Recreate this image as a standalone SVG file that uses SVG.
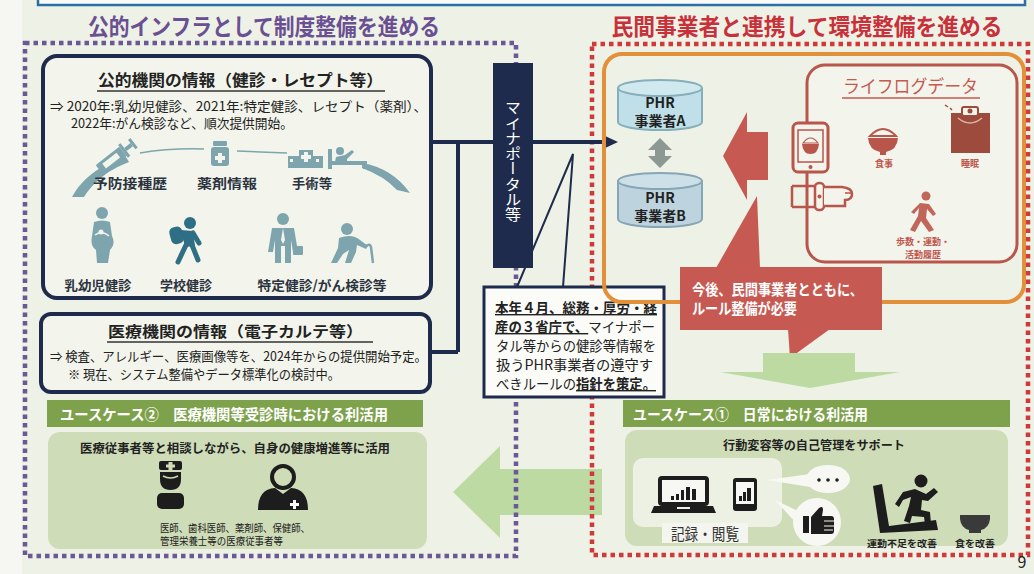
<svg xmlns="http://www.w3.org/2000/svg" width="1034" height="574" viewBox="0 0 1034 574">
  <defs>
    <style>
      text { font-family: "Noto Sans CJK JP", "Noto Sans", sans-serif; }
      .b { font-weight: 700; }
      .dk { fill: #222; }
      .navy { fill: none; stroke: #1f2b4c; }
      .teal { fill: #7ea4ae; }
      .ul { text-decoration: underline; }
      .lbl { font-size: 13px; font-weight: 700; fill: #2b3340; }
      .ll { font-size: 9px; font-weight: 700; fill: #c0564c; }
      .blk { fill: #1d1d1d; }
      .ghead { fill: #7ea24c; }
      .gbox { fill: #cfdcb8; }
    </style>
  </defs>

  <!-- page background -->
  <rect x="0" y="0" width="1034" height="574" fill="#f6f7f2"/>
  <rect x="22" y="0" width="1012" height="574" fill="#eef1e5"/>

  <!-- banner box at the top edge -->
  <rect x="38" y="-20" width="987" height="25" fill="#fafbf7" stroke="#2a70a6" stroke-width="2.5"/>

  <!-- section titles -->
  <text x="264" y="35" text-anchor="middle" font-size="23" class="b" fill="#6a4f93" textLength="352" lengthAdjust="spacingAndGlyphs">公的インフラとして制度整備を進める</text>
  <text x="807" y="35" text-anchor="middle" font-size="23" class="b" fill="#c8303a" textLength="391" lengthAdjust="spacingAndGlyphs">民間事業者と連携して環境整備を進める</text>

  <!-- green arrow from daily use to clinical use -->
  <g id="green-left-arrow">
    <polygon points="453,492 500,446 500,469 602,469 602,515 500,515 500,538" fill="#bedaa3"/>
  </g>

  <!-- dotted section frames -->
  <g id="frames" fill="none" stroke-width="4.5" stroke-dasharray="4.5 4">
    <rect x="25" y="43" width="491" height="513" stroke="#6b5896"/>
    <rect x="592" y="44" width="436" height="511" stroke="#d0393a"/>
  </g>

  <!-- public institution info -->
  <g id="public-info">
    <rect x="43" y="56" width="388" height="242" rx="14" fill="#f3f5ec" stroke="#1f2b4c" stroke-width="4"/>
    <text x="98" y="86" font-size="16" class="b dk" textLength="285" lengthAdjust="spacingAndGlyphs">公的機関の情報（健診・レセプト等）</text>
    <line x1="97" y1="91" x2="385" y2="91" stroke="#333" stroke-width="1.5"/>
    <text x="50" y="111" font-size="13" class="dk" textLength="377" lengthAdjust="spacingAndGlyphs">⇒ 2020年:乳幼児健診、2021年:特定健診、レセプト（薬剤）、</text>
    <text x="71" y="128" font-size="13" class="dk" textLength="222" lengthAdjust="spacingAndGlyphs">2022年:がん検診など、順次提供開始。</text>

    <!-- timeline arc -->
    <path d="M72,197 C84,176 100,166 126,157 L129,162 C106,171 94,182 84,197 Z" class="teal"/>
    <path d="M140,153 Q170,148 204,149" fill="none" stroke="#7ea4ae" stroke-width="1.5"/>
    <path d="M237,151 L287,153" fill="none" stroke="#7ea4ae" stroke-width="1.5"/>
    <path d="M362,163 Q392,168 410,193 L397,190 Q384,176 362,168 Z" class="teal"/>

    <!-- syringe -->
    <g transform="translate(112,160) rotate(-38)" fill="#7ea4ae">
      <rect x="-16" y="-6" width="30" height="12" rx="1"/>
      <rect x="-10" y="-3" width="18" height="6" fill="#f3f5ec"/>
      <rect x="14" y="-8" width="3" height="16"/>
      <rect x="17" y="-2" width="8" height="4"/>
      <rect x="25" y="-6" width="3" height="12"/>
      <rect x="-24" y="-1" width="8" height="2"/>
    </g>

    <!-- medicine bottle -->
    <g class="teal">
      <rect x="213" y="141" width="14" height="5" rx="1"/>
      <rect x="211" y="147" width="18" height="19" rx="3"/>
      <path d="M218,153 h4 v3 h3 v4 h-3 v3 h-4 v-3 h-3 v-4 h3 Z" fill="#f3f5ec"/>
    </g>

    <!-- hospital and bed -->
    <g class="teal">
      <rect x="288" y="156" width="12" height="12"/>
      <rect x="299" y="150" width="14" height="18"/>
      <rect x="312" y="156" width="11" height="12"/>
      <path d="M304,152 h4 v3 h3 v4 h-3 v3 h-4 v-3 h-3 v-4 h3 Z" fill="#f3f5ec"/>
      <rect x="290" y="159" width="3" height="3" fill="#f3f5ec"/>
      <rect x="316" y="159" width="3" height="3" fill="#f3f5ec"/>
      <rect x="328" y="149" width="4" height="20"/>
      <circle cx="340" cy="151" r="4"/>
      <path d="M336,157 L345,155 L352,150 L354,152 L347,159 L347,162 H335 Z"/>
      <rect x="332" y="161" width="35" height="4"/>
      <rect x="363" y="165" width="4" height="4"/>
    </g>
    <text x="130" y="188" text-anchor="middle" class="lbl" textLength="74" lengthAdjust="spacingAndGlyphs">予防接種歴</text>
    <text x="227" y="188" text-anchor="middle" class="lbl" textLength="60" lengthAdjust="spacingAndGlyphs">薬剤情報</text>
    <text x="312" y="188" text-anchor="middle" class="lbl" textLength="40" lengthAdjust="spacingAndGlyphs">手術等</text>

    <!-- mother with infant -->
    <g class="teal">
      <circle cx="102" cy="213" r="6"/>
      <path d="M94,222 Q102,219 110,222 L112,236 Q116,244 110,250 L108,263 H97 L96,250 Q90,246 92,236 Z"/>
      <path d="M95,235 Q102,230 109,236" fill="none" stroke="#f3f5ec" stroke-width="1.5"/>
      <circle cx="101" cy="232" r="2.5" fill="#f3f5ec"/>
    </g>
    <!-- schoolchild -->
    <g fill="#2f6f86">
      <circle cx="190" cy="223" r="6"/>
      <rect x="170" y="227" width="13" height="17" rx="5" transform="rotate(-15 176 235)"/>
      <path d="M181,230 L193,231 L195,246 L185,247 Z"/>
      <path d="M186,245 L178,262 M192,245 L198,260 M193,233 L199,243" stroke="#2f6f86" stroke-width="5" stroke-linecap="round" fill="none"/>
    </g>
    <!-- office worker -->
    <g class="teal">
      <circle cx="283" cy="219" r="6"/>
      <path d="M272,228 H294 L298,252 H293 L291,240 V263 H285 V246 H281 V263 H275 V240 L273,252 H268 Z"/>
      <polygon points="283,228 285,240 283,244 281,240" fill="#f3f5ec"/>
      <rect x="293" y="246" width="10" height="9" rx="1"/>
    </g>
    <!-- elderly person with cane -->
    <g class="teal">
      <circle cx="347" cy="229" r="6"/>
      <path d="M339,238 Q352,233 360,240 L368,246 L366,249 L357,245 L356,252 L351,263 H345 L349,250 L343,254 L337,263 H331 L338,248 Z"/>
      <path d="M366,246 Q370,243 371,247 L373,263" fill="none" stroke="#7ea4ae" stroke-width="2.5"/>
    </g>
    <text x="98" y="290" text-anchor="middle" class="lbl" textLength="67" lengthAdjust="spacingAndGlyphs">乳幼児健診</text>
    <text x="186" y="290" text-anchor="middle" class="lbl" textLength="52" lengthAdjust="spacingAndGlyphs">学校健診</text>
    <text x="322" y="290" text-anchor="middle" class="lbl" textLength="129" lengthAdjust="spacingAndGlyphs">特定健診/がん検診等</text>
  </g>

  <!-- medical institution info -->
  <g id="medical-info">
    <rect x="41" y="314" width="389" height="78" rx="10" fill="#f3f5ec" stroke="#1f2b4c" stroke-width="4"/>
    <text x="108" y="337" font-size="15" class="b dk" textLength="255" lengthAdjust="spacingAndGlyphs">医療機関の情報（電子カルテ等）</text>
    <line x1="107" y1="342" x2="373" y2="342" stroke="#333" stroke-width="1.5"/>
    <text x="50" y="361" font-size="13" class="dk" textLength="377" lengthAdjust="spacingAndGlyphs">⇒ 検査、アレルギー、医療画像等を、2024年からの提供開始予定。</text>
    <text x="68" y="379" font-size="13" class="dk" textLength="272" lengthAdjust="spacingAndGlyphs">※  現在、システム整備やデータ標準化の検討中。</text>
  </g>

  <!-- connectors from the institutions to the PHR providers -->
  <g id="connectors">
    <path d="M458,352 H430 M458,352 V142 M430,142 H606" class="navy" stroke-width="4"/>
    <polygon points="603,135 618,142 603,149" fill="#1f2b4c"/>
  </g>

  <!-- portal pillar -->
  <g id="portal">
    <rect x="493" y="63" width="40" height="205" fill="#1f2b4c"/>
    <text x="513" y="100" font-size="16" fill="#ffffff" style="writing-mode: vertical-rl" textLength="122" lengthAdjust="spacingAndGlyphs">マイナポータル等</text>
  </g>

  <!-- guideline callout -->
  <g id="guideline-note">
    <path d="M517,287 L573,154 L563,287" fill="none" stroke="#1f2b4c" stroke-width="2"/>
    <rect x="484" y="287" width="180" height="110" fill="#fbfcf8" stroke="#1f2b4c" stroke-width="3"/>
    <text x="495" y="313" font-size="14" class="dk" textLength="162" lengthAdjust="spacingAndGlyphs"><tspan class="b ul">本年４月、総務・厚労・経</tspan></text>
    <text x="495" y="332" font-size="14" class="dk" textLength="160" lengthAdjust="spacingAndGlyphs"><tspan class="b ul">産の３省庁で、</tspan>マイナポー</text>
    <text x="496" y="351" font-size="14" class="dk" textLength="160" lengthAdjust="spacingAndGlyphs">タル等からの健診等情報を</text>
    <text x="496" y="370" font-size="14" class="dk" textLength="157" lengthAdjust="spacingAndGlyphs">扱うPHR事業者の遵守す</text>
    <text x="496" y="389" font-size="14" class="dk" textLength="160" lengthAdjust="spacingAndGlyphs">べきルールの<tspan class="b ul">指針を策定。</tspan></text>
  </g>

  <!-- private sector frame -->
  <rect x="604" y="54" width="420" height="248" rx="18" fill="none" stroke="#e2913a" stroke-width="4"/>

  <!-- PHR providers -->
  <g id="phr-a">
    <path d="M618,88 V122 A42,8 0 0 0 702,122 V88" fill="#bfe0e8" stroke="#86aebb" stroke-width="2"/>
    <ellipse cx="660" cy="88" rx="42" ry="8" fill="#cfe9ef" stroke="#86aebb" stroke-width="2"/>
    <text x="660" y="108" text-anchor="middle" font-size="14" class="b dk">PHR</text>
    <text x="660" y="126" text-anchor="middle" font-size="14" class="b dk">事業者A</text>
  </g>
  <g id="phr-link">
    <polygon points="660,138 672,150 665,150 665,156 672,156 660,168 648,156 655,156 655,150 648,150" fill="#8c9894"/>
  </g>
  <g id="phr-b">
    <path d="M618,181 V219 A42,8 0 0 0 702,219 V181" fill="#bdd4df" stroke="#86a5b5" stroke-width="2"/>
    <ellipse cx="660" cy="181" rx="42" ry="8" fill="#cde0e8" stroke="#86a5b5" stroke-width="2"/>
    <text x="660" y="203" text-anchor="middle" font-size="14" class="b dk">PHR</text>
    <text x="660" y="221" text-anchor="middle" font-size="14" class="b dk">事業者B</text>
  </g>

  <!-- lifelog data flowing to PHR -->
  <g id="lifelog-arrow">
    <polygon points="723,156 747,112 747,132 768,132 768,180 747,180 747,200" fill="#c65a52"/>
  </g>

  <!-- lifelog data -->
  <g id="lifelog">
    <rect x="807" y="65" width="210" height="197" rx="18" fill="#f3f4ec" stroke="#b8564c" stroke-width="3"/>
    <text x="843" y="93" font-size="18" fill="#c65a4f" textLength="135" lengthAdjust="spacingAndGlyphs">ライフログデータ</text>
    <line x1="842" y1="98" x2="980" y2="98" stroke="#c65a4f" stroke-width="1.5"/>

    <!-- smartphone -->
    <rect x="793" y="123" width="35" height="49" rx="5" fill="#f3f4ec" stroke="#b8564c" stroke-width="3"/>
    <rect x="798" y="130" width="25" height="32" fill="none" stroke="#b8564c" stroke-width="1.5"/>
    <path d="M802,144 H819 Q818,154 810.5,154 Q803,154 802,144 Z" fill="#b8564c"/>
    <path d="M803,143 Q810.5,133 818,143 Z" fill="none" stroke="#b8564c" stroke-width="1.2"/>
    <circle cx="810.5" cy="167" r="2" fill="#b8564c"/>
    <!-- wristband -->
    <path d="M792,186 H822 M792,207 H822 M792,186 V207" fill="none" stroke="#b8564c" stroke-width="2.5"/>
    <rect x="815" y="183" width="9" height="27" rx="4" fill="#f3f4ec" stroke="#b8564c" stroke-width="2.5"/>
    <circle cx="819.5" cy="196.5" r="2" fill="#b8564c"/>
    <path d="M824,187 H842 Q852,188 852,194 Q852,200 845,200 V206 H824" fill="#f3f4ec" stroke="#b8564c" stroke-width="2.5"/>
    <path d="M845,193 H851" stroke="#b8564c" stroke-width="1.5"/>

    <!-- meal -->
    <path d="M868,138 H898 Q897,150 886,152 V155 H880 V152 Q869,150 868,138 Z" fill="#b8564c"/>
    <path d="M870,136 Q883,122 896,136 Z" fill="none" stroke="#b8564c" stroke-width="2"/>
    <text x="884" y="167" text-anchor="middle" class="ll">食事</text>

    <!-- sleep -->
    <rect x="951" y="113" width="39" height="40" fill="#9c4b3d"/>
    <rect x="962" y="107" width="16" height="9" rx="2" fill="#f3f4ec" stroke="#9c4b3d" stroke-width="2"/>
    <circle cx="970" cy="111" r="2.5" fill="#9c4b3d"/>
    <path d="M958,118 Q970,128 982,118" fill="none" stroke="#d8b5a8" stroke-width="1.5"/>
    <path d="M945,105 l3,2 M950,108 l2,2" stroke="#9c4b3d" stroke-width="1.5"/>
    <text x="970" y="167" text-anchor="middle" class="ll">睡眠</text>

    <!-- walking -->
    <g fill="#c0665a">
      <circle cx="926" cy="196" r="4.5"/>
      <path d="M920,203 L929,204 L936,214 L933,216 L927,209 L926,218 L934,230 L929,232 L921,221 L915,232 L910,230 L918,216 L919,208 L914,214 L911,212 Z"/>
    </g>
    <text x="923" y="245" text-anchor="middle" class="ll">歩数・運動・</text>
    <text x="923" y="258" text-anchor="middle" class="ll">活動履歴</text>
  </g>

  <!-- rule-making speech bubble -->
  <g id="rules-bubble">
    <polygon points="757,196 760,268 716,268" fill="#c65a52"/>
    <rect x="680" y="267" width="202" height="63" fill="#c65a52"/>
    <polygon points="788,329 830,329 790,358" fill="#c65a52"/>
    <text x="692" y="295" font-size="15" class="b" fill="#ffffff" textLength="171" lengthAdjust="spacingAndGlyphs">今後、民間事業者とともに、</text>
    <text x="692" y="314" font-size="15" class="b" fill="#ffffff" textLength="105" lengthAdjust="spacingAndGlyphs">ルール整備が必要</text>
  </g>

  <!-- green arrow down to daily use -->
  <g id="green-down-arrow">
    <polygon points="763,353 855,353 855,372 900,372 810,388 720,372 763,372" fill="#bedaa3"/>
  </g>

  <!-- use case 2 -->
  <g id="usecase-2">
    <rect x="47" y="400" width="376" height="27" class="ghead"/>
    <text x="60" y="420" font-size="15" class="b" fill="#ffffff" textLength="328" lengthAdjust="spacingAndGlyphs">ユースケース②　医療機関等受診時における利活用</text>
    <rect x="48" y="432" width="379" height="117" rx="12" class="gbox"/>
    <text x="80" y="453" font-size="12" class="b dk" textLength="310" lengthAdjust="spacingAndGlyphs">医療従事者等と相談しながら、自身の健康増進等に活用</text>
    <!-- doctor -->
    <g class="blk">
      <rect x="159" y="461" width="23" height="9" rx="2"/>
      <path d="M168.5,462 h4 v2.5 h2.5 v3 h-2.5 v2.5 h-4 v-2.5 h-2.5 v-3 h2.5 Z" fill="#cfdcb8"/>
      <path d="M160,472 H181 V479 Q181,490 170.5,490 Q160,490 160,479 Z"/>
      <path d="M163,476 Q170.5,480 178,476" fill="none" stroke="#cfdcb8" stroke-width="1.5"/>
      <rect x="157" y="493" width="27" height="16" rx="5"/>
    </g>
    <!-- medical professional -->
    <g>
      <circle cx="283" cy="477" r="11" fill="none" stroke="#1d1d1d" stroke-width="4"/>
      <path d="M258,510 Q258,489 275,488 L283,494 L291,488 Q308,489 308,510 Z" class="blk"/>
      <path d="M293,500 h3 v3 h3 v3 h-3 v3 h-3 v-3 h-3 v-3 h3 Z" fill="#ffffff"/>
    </g>
    <text x="160" y="532" font-size="10.5" class="dk" textLength="150" lengthAdjust="spacingAndGlyphs">医師、歯科医師、薬剤師、保健師、</text>
    <text x="160" y="545" font-size="10.5" class="dk" textLength="123" lengthAdjust="spacingAndGlyphs">管理栄養士等の医療従事者等</text>
  </g>

  <!-- use case 1 -->
  <g id="usecase-1">
    <rect x="623" y="400" width="387" height="27" class="ghead"/>
    <text x="633" y="420" font-size="15" class="b" fill="#ffffff" textLength="235" lengthAdjust="spacingAndGlyphs">ユースケース①　日常における利活用</text>
    <rect x="625" y="430" width="383" height="116" rx="12" class="gbox"/>
    <text x="723" y="450" font-size="12" class="b dk" textLength="182" lengthAdjust="spacingAndGlyphs">行動変容等の自己管理をサポート</text>

    <rect x="633" y="458" width="149" height="69" rx="10" fill="#edf1e3"/>
    <!-- laptop -->
    <rect x="660" y="478" width="47" height="26" rx="2" fill="#f7f8f4" stroke="#1d1d1d" stroke-width="4"/>
    <g class="blk">
      <rect x="671" y="496" width="3" height="4"/>
      <rect x="676" y="494" width="3" height="6"/>
      <rect x="681" y="490" width="3" height="10"/>
      <rect x="686" y="487" width="4" height="13"/>
      <rect x="692" y="489" width="4" height="11"/>
      <path d="M654,506 H713 L716,513 H651 Z"/>
    </g>
    <rect x="677" y="507" width="13" height="2" fill="#edf1e3"/>
    <!-- tablet -->
    <rect x="733" y="478" width="24" height="33" rx="3" class="blk"/>
    <rect x="736" y="482" width="18" height="22" fill="#f7f8f4"/>
    <g class="blk">
      <rect x="739" y="496" width="3" height="5"/>
      <rect x="743" y="492" width="3" height="9"/>
      <rect x="747" y="488" width="4" height="13"/>
    </g>
    <!-- record label -->
    <rect x="662" y="523" width="86" height="20" fill="#f3f5ee"/>
    <text x="705" y="540" text-anchor="middle" font-size="16" fill="#333" textLength="68" lengthAdjust="spacingAndGlyphs">記録・閲覧</text>

    <!-- feedback bubbles -->
    <path d="M767,480 L810,474 L810,487 Z" fill="#f7f8f4"/>
    <ellipse cx="828" cy="479" rx="22" ry="14" fill="#f7f8f4"/>
    <circle cx="819" cy="480" r="1.8" class="blk"/>
    <circle cx="828" cy="480" r="1.8" class="blk"/>
    <circle cx="837" cy="480" r="1.8" class="blk"/>
    <path d="M775,500 L800,512 L797,524 Z" fill="#f7f8f4"/>
    <circle cx="817" cy="522" r="24" fill="#f7f8f4"/>
    <g class="blk">
      <rect x="803" y="516" width="6" height="17"/>
      <path d="M811,517 L819,508 Q823,505 823,510 L822,516 H831 Q834,516 834,519 L834,531 Q834,534 831,534 H811 Z"/>
    </g>
    <path d="M824,521 H834 M824,526 H834 M824,530 H833" stroke="#f7f8f4" stroke-width="1.2"/>

    <!-- treadmill runner -->
    <g class="blk">
      <path d="M873,486 L882,484 L889,526 L936,520 L938,530 L880,533 Z"/>
      <circle cx="921" cy="481" r="6.5"/>
      <path d="M903,492 L915,489 L926,494 L934,488 L938,492 L928,501 L922,500 L921,510 L930,512 L931,524 L925,524 L924,517 L912,516 L910,523 L904,521 L909,506 L911,497 L903,500 L899,507 L895,504 Z"/>
    </g>
    <text x="902" y="547" text-anchor="middle" font-size="9.5" class="b dk" textLength="70" lengthAdjust="spacingAndGlyphs">運動不足を改善</text>
    <!-- bowl -->
    <path d="M960,515 H990 V519 Q989,528 981,530 V533 H969 V530 Q961,528 960,519 Z" fill="#3a3a3a"/>
    <text x="975" y="547" text-anchor="middle" font-size="9.5" class="b dk" textLength="40" lengthAdjust="spacingAndGlyphs">食を改善</text>
  </g>

  <!-- page number -->
  <text x="1022" y="568" text-anchor="middle" font-size="16" fill="#222">9</text>
</svg>
